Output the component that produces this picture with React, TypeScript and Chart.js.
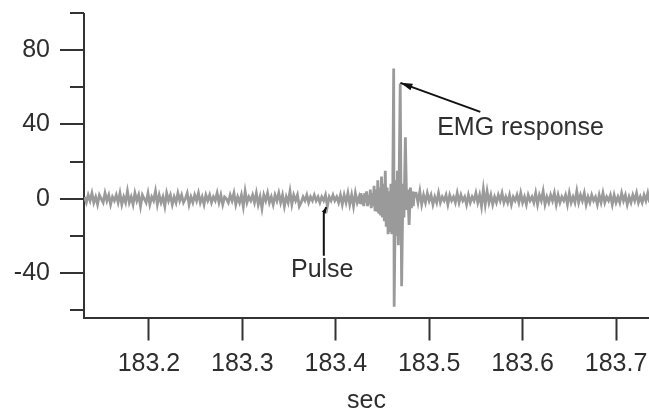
import React, { useEffect, useRef } from 'react';
import { Chart, registerables } from 'chart.js';

Chart.register(...registerables);

// Axis ticks
const xTicks = [183.2, 183.3, 183.4, 183.5, 183.6, 183.7];
const yMajorTicks = [80, 40, 0, -40];
const yMinorTicks = [100, 60, 20, -20, -60];
const xRange = [183.1305, 183.7353];
const yRange = [-63.8, 99.3];

// Baseline before the response (regular sampling)
const preStart = 183.131;
const sampleStep = 0.002;
const preValues = [
  1, -2, 2, -1, 3, -2, 1, -3, 2, 0, -2, 3, -1, 2, -3, 1, -1, 2, -2, 3,
  -3, 1, -2, 4, -2, 1, -3, 3, -1, 2, -4, 2, 0, -2, 3, -3, 1, -1, 4, -3,
  2, -2, 1, -4, 3, -1, 2, -3, 1, -2, 3, -1, 2, -2, 0, 3, -3, 1, -2, 2,
  -1, 3, -2, 1, -3, 2, -1, 2, -2, 1, -1, 3, -2, 2, -3, 1, 0, -2, 2, -1,
  3, -3, 1, -2, 2, -4, 4, -2, 1, -1, 2, -2, 3, -3, 1, -5, 2, -1, 3, -2,
  1, -3, 2, -1, 3, -2, 2, -4, 1, -2, 4, -3, 2, -1, 2, -4, -2, 1, -1, 2,
  -2, 1, -1, 2, -1, 1, -2, 1, -1, 2, -4, 1, -1, 2, -1, 1, -2, 2, -3, 2,
  -2, 3, -3, 2, -4, 3, -2, 1,
];

// EMG response
const spikeTimes = [
  183.426, 183.427, 183.428, 183.429, 183.430, 183.431, 183.432, 183.433, 183.434, 183.435,
  183.436, 183.437, 183.438, 183.439, 183.440, 183.441, 183.442, 183.443, 183.444, 183.445,
  183.446, 183.447, 183.448, 183.449, 183.450, 183.451, 183.452, 183.453, 183.454, 183.455,
  183.456, 183.457, 183.458, 183.459, 183.460, 183.461, 183.462, 183.4625, 183.464, 183.465,
  183.466, 183.467, 183.469, 183.4705, 183.472, 183.473, 183.4745, 183.476, 183.477, 183.4785,
  183.480, 183.481, 183.482, 183.483, 183.484,
];
const spikeValues = [
  -2, 3, -3, 2, -4, 3, -2, 4, -4, 2,
  -3, 5, -5, 3, -4, 7, -6, 5, -7, 10,
  -8, 6, -9, 12, -10, 8, -12, 15, -15, 6,
  -19, 4, -18, 8, -19, 5, 70, -58, 10, -20,
  15, -25, 62, -47, 8, -10, 33, -6, 5, -14,
  6, -5, 4, -4, 3,
];

// Baseline after the response
const postStart = 183.486;
const postValues = [
  3, -2, 4, -3, 2, -2, 3, -1, 2, -3, 1, -2, 3, -2, 1, -1, 2, -3, 2, -1,
  1, -2, 3, -2, 2, -1, 1, -3, 2, -2, 1, -1, 3, -2, 2, -4, 5, -3, 4, -2,
  2, -3, 1, -2, 2, -1, 3, -2, 1, -2, 2, -3, 1, -1, 2, -2, 3, -2, 1, -3,
  2, -1, 1, -2, 3, -3, 2, -1, 4, -3, 1, -2, 2, -1, 3, -3, 2, -2, 1, -1,
  2, -3, 3, -2, 1, -2, 4, -2, 2, -1, 3, -3, 1, -2, 2, -1, 1, -3, 2, -2,
  3, -2, 1, -1, 2, -3, 2, -2, 1, -2, 3, -1, 2, -3, 1, -2, 2, -1, 3, -2,
  1, -2, 2, -1, 3, -2,
];

// Annotations (data coordinates)
const emgLabel = { text: 'EMG response', x: 183.5085, y: 38.1 };
const emgArrow = [183.5547, 46.7, 183.4692, 62.3];
const pulseLabel = { text: 'Pulse', x: 183.3855, y: -38.1 };
const pulseArrow = [
  [183.3872, -30.6],
  [183.3872, -7.8],
  [183.3898, -4.5],
];

const FONT = '"Liberation Sans", Arial, Helvetica, sans-serif';
const FONT_SIZE = 25;
const TEXT = '#2e2e2e';
const AXIS = '#333333';
const LINE = '#9a9a9a';

function drawArrowHead(ctx: CanvasRenderingContext2D, fx: number, fy: number, tx: number, ty: number, len: number, half: number) {
  const a = Math.atan2(ty - fy, tx - fx);
  ctx.beginPath();
  ctx.moveTo(tx, ty);
  ctx.lineTo(tx - len * Math.cos(a) + half * Math.sin(a), ty - len * Math.sin(a) - half * Math.cos(a));
  ctx.lineTo(tx - len * Math.cos(a) - half * Math.sin(a), ty - len * Math.sin(a) + half * Math.cos(a));
  ctx.closePath();
  ctx.fill();
}

const decorations = {
  id: 'decorations',
  afterDraw(chart: any) {
    const { ctx, chartArea, scales } = chart;
    const x = scales.x;
    const y = scales.y;
    ctx.save();
    ctx.strokeStyle = AXIS;
    ctx.fillStyle = AXIS;
    ctx.lineWidth = 2;
    // y ticks
    yMajorTicks.forEach((v) => {
      const py = Math.round(y.getPixelForValue(v));
      ctx.beginPath();
      ctx.moveTo(chartArea.left - 24, py);
      ctx.lineTo(chartArea.left, py);
      ctx.stroke();
    });
    yMinorTicks.forEach((v) => {
      const py = Math.round(y.getPixelForValue(v));
      ctx.beginPath();
      ctx.moveTo(chartArea.left - 14, py);
      ctx.lineTo(chartArea.left, py);
      ctx.stroke();
    });
    // EMG arrow
    const ex1 = x.getPixelForValue(emgArrow[0]);
    const ey1 = y.getPixelForValue(emgArrow[1]);
    const ex2 = x.getPixelForValue(emgArrow[2]);
    const ey2 = y.getPixelForValue(emgArrow[3]);
    ctx.strokeStyle = '#111';
    ctx.fillStyle = '#111';
    ctx.lineWidth = 2;
    ctx.beginPath();
    ctx.moveTo(ex1, ey1);
    ctx.lineTo(ex2, ey2);
    ctx.stroke();
    drawArrowHead(ctx, ex1, ey1, ex2, ey2, 12, 3.5);
    // Pulse arrow
    const pts = pulseArrow.map((p) => [x.getPixelForValue(p[0]), y.getPixelForValue(p[1])]);
    ctx.beginPath();
    ctx.moveTo(pts[0][0], pts[0][1]);
    for (let i = 1; i < pts.length; i++) ctx.lineTo(pts[i][0], pts[i][1]);
    ctx.stroke();
    drawArrowHead(ctx, pts[1][0], pts[1][1], pts[2][0], pts[2][1], 6, 2.5);
    // Labels
    ctx.fillStyle = TEXT;
    ctx.font = `${FONT_SIZE}px ${FONT}`;
    ctx.textBaseline = 'middle';
    ctx.textAlign = 'left';
    ctx.fillText(emgLabel.text, x.getPixelForValue(emgLabel.x), y.getPixelForValue(emgLabel.y));
    ctx.textAlign = 'center';
    ctx.fillText(pulseLabel.text, x.getPixelForValue(pulseLabel.x), y.getPixelForValue(pulseLabel.y));
    ctx.restore();
  },
};

export default function App() {
  const ref = useRef<HTMLCanvasElement | null>(null);
  useEffect(() => {
    document.body.style.margin = '0';
    const canvas = ref.current;
    if (!canvas) return;
    const points: { x: number; y: number }[] = [];
    preValues.forEach((v, i) => points.push({ x: preStart + i * sampleStep, y: v }));
    spikeTimes.forEach((t, i) => points.push({ x: t, y: spikeValues[i] }));
    postValues.forEach((v, i) => points.push({ x: postStart + i * sampleStep, y: v }));

    const chart = new Chart(canvas, {
      type: 'line',
      data: {
        datasets: [
          {
            data: points,
            borderColor: LINE,
            borderWidth: 2.8,
            pointRadius: 0,
            tension: 0,
            fill: false,
          },
        ],
      },
      plugins: [decorations],
      options: {
        responsive: false,
        animation: false,
        events: [],
        layout: { padding: { top: 14, right: 0, bottom: 0, left: 0 } },
        plugins: { legend: { display: false }, tooltip: { enabled: false } },
        scales: {
          x: {
            type: 'linear',
            min: xRange[0],
            max: xRange[1],
            afterBuildTicks: (scale: any) => {
              scale.ticks = xTicks.map((v) => ({ value: v }));
            },
            afterFit: (scale: any) => {
              scale.height = 95.5;
              scale.paddingLeft = 0;
              scale.paddingRight = 0;
            },
            ticks: {
              callback: (v: any) => Number(v).toFixed(1),
              font: { family: FONT, size: FONT_SIZE },
              color: TEXT,
              padding: 9,
              maxRotation: 0,
              autoSkip: false,
            },
            grid: {
              drawOnChartArea: false,
              drawTicks: true,
              tickLength: 23,
              tickColor: AXIS,
              tickWidth: 2,
              color: AXIS,
            },
            border: { display: true, color: AXIS, width: 2 },
            title: {
              display: true,
              text: 'sec',
              font: { family: FONT, size: FONT_SIZE },
              color: TEXT,
              padding: { top: 0, bottom: -3 },
            },
          },
          y: {
            type: 'linear',
            min: yRange[0],
            max: yRange[1],
            afterBuildTicks: (scale: any) => {
              scale.ticks = [...yMinorTicks, ...yMajorTicks].sort((a, b) => a - b).map((v) => ({ value: v }));
            },
            afterFit: (scale: any) => {
              scale.width = 84;
              scale.paddingTop = 0;
              scale.paddingBottom = 0;
            },
            ticks: {
              callback: (v: any) => (yMajorTicks.includes(Number(v)) ? String(v) : ''),
              font: { family: FONT, size: FONT_SIZE },
              color: TEXT,
              padding: 10,
              autoSkip: false,
            },
            grid: {
              drawOnChartArea: false,
              drawTicks: true,
              tickLength: 24,
              tickColor: 'rgba(0,0,0,0)',
            },
            border: { display: true, color: AXIS, width: 2 },
          },
        },
      },
    });
    return () => chart.destroy();
  }, []);

  return (
    <div style={{ width: 649, height: 413, background: '#fff' }}>
      <canvas ref={ref} width={649} height={413} />
    </div>
  );
}
